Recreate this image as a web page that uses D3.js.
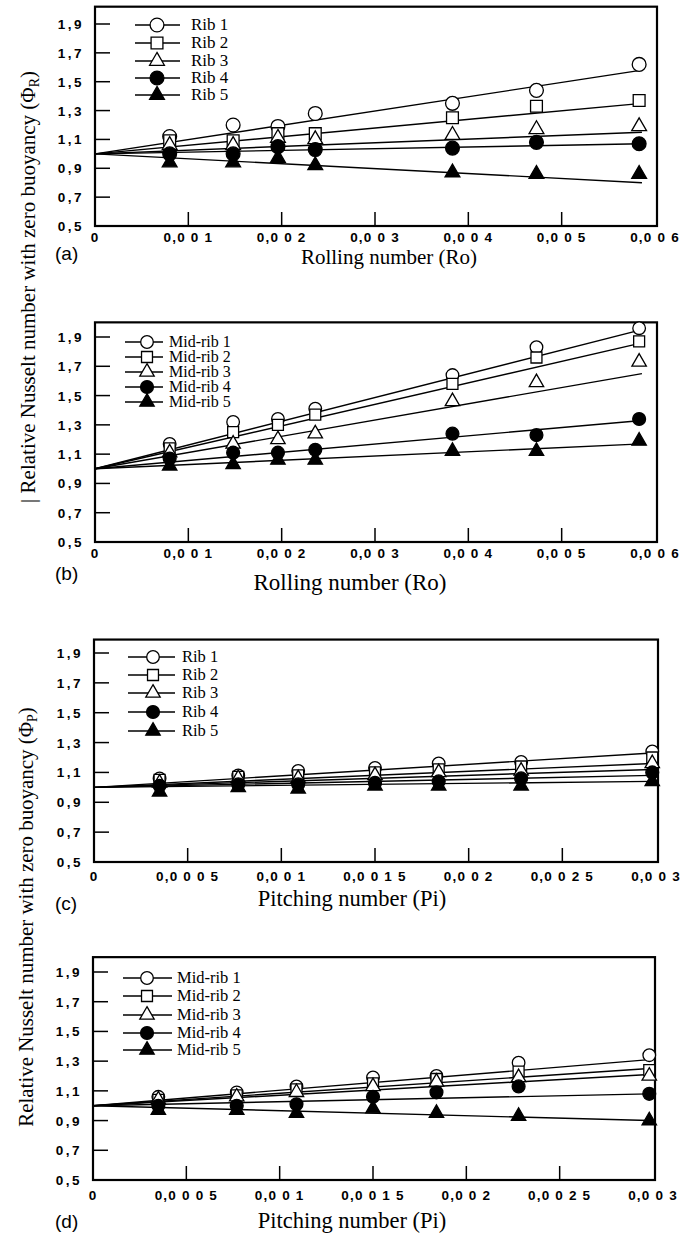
<!DOCTYPE html>
<meta charset="utf-8">
<script src="https://d3js.org/d3.v7.min.js"></script>
<style>
  body { margin: 0; background: #fff; }
  .ytl, .xtl { font-family: "Liberation Sans", Arial, sans-serif; font-weight: bold; font-size: 13.5px; }
  .ser { font-family: "Liberation Serif", "Times New Roman", serif; }
  .tag { font-family: "Liberation Sans", Arial, sans-serif; }
</style>
<svg id="chart" width="688" height="1235"></svg>
<script>

// ---- data ----
var roX = [0.00080, 0.00148, 0.00196, 0.00236, 0.00383, 0.00473, 0.00583];
var piX = [0.00035, 0.00077, 0.00109, 0.00150, 0.00184, 0.00228, 0.00298];

var ribNames = ["Rib 1", "Rib 2", "Rib 3", "Rib 4", "Rib 5"];
var midNames = ["Mid-rib 1", "Mid-rib 2", "Mid-rib 3", "Mid-rib 4", "Mid-rib 5"];

// (a) rolling, ribs
var rollRib1 = [1.12, 1.20, 1.19, 1.28, 1.35, 1.44, 1.62];
var rollRib2 = [1.09, 1.09, 1.14, 1.14, 1.25, 1.33, 1.37];
var rollRib3 = [1.06, 1.06, 1.11, 1.10, 1.13, 1.17, 1.19];
var rollRib4 = [1.00, 1.00, 1.05, 1.03, 1.04, 1.08, 1.07];
var rollRib5 = [0.94, 0.94, 0.97, 0.92, 0.87, 0.86, 0.86];
var rollRibFit = [1.58, 1.35, 1.15, 1.07, 0.80];

// (b) rolling, mid-ribs
var rollMid1 = [1.17, 1.32, 1.34, 1.41, 1.64, 1.83, 1.96];
var rollMid2 = [1.14, 1.25, 1.30, 1.37, 1.58, 1.76, 1.87];
var rollMid3 = [1.11, 1.17, 1.20, 1.24, 1.46, 1.59, 1.73];
var rollMid4 = [1.07, 1.11, 1.11, 1.13, 1.24, 1.23, 1.34];
var rollMid5 = [1.02, 1.03, 1.06, 1.06, 1.12, 1.12, 1.19];
var rollMidFit = [1.95, 1.86, 1.65, 1.33, 1.17];

// (c) pitching, ribs
var pitchRib1 = [1.06, 1.08, 1.11, 1.13, 1.16, 1.17, 1.24];
var pitchRib2 = [1.05, 1.07, 1.08, 1.10, 1.12, 1.14, 1.20];
var pitchRib3 = [1.03, 1.06, 1.06, 1.08, 1.10, 1.11, 1.16];
var pitchRib4 = [1.01, 1.02, 1.02, 1.03, 1.04, 1.06, 1.10];
var pitchRib5 = [0.97, 1.00, 0.99, 1.01, 1.01, 1.01, 1.04];
var pitchRibFit = [1.23, 1.16, 1.12, 1.08, 1.04];

// (d) pitching, mid-ribs
var pitchMid1 = [1.06, 1.09, 1.13, 1.19, 1.20, 1.29, 1.34];
var pitchMid2 = [1.04, 1.07, 1.11, 1.15, 1.18, 1.23, 1.24];
var pitchMid3 = [1.04, 1.06, 1.09, 1.13, 1.16, 1.19, 1.20];
var pitchMid4 = [1.00, 1.00, 1.01, 1.06, 1.09, 1.13, 1.08];
var pitchMid5 = [0.97, 0.97, 0.95, 0.98, 0.95, 0.93, 0.90];
var pitchMidFit = [1.31, 1.25, 1.21, 1.08, 0.90];

// fit lines start at (0, 1) and run to the last measured point
var fitStart = [0, 1.0];
var roFitEnd = 0.00586;
var piFitEnd = 0.00298;

// axes
var yTicks = [0.5, 0.7, 0.9, 1.1, 1.3, 1.5, 1.7, 1.9];
var yTickLabels = ["0,5", "0,7", "0,9", "1,1", "1,3", "1,5", "1,7", "1,9"];
var roTicks = [0, 0.001, 0.002, 0.003, 0.004, 0.005, 0.006];
var roTickLabels = ["0", "0,0 0 1", "0,0 0 2", "0,0 0 3", "0,0 0 4", "0,0 0 5", "0,0 0 6"];
var piTicks = [0, 0.0005, 0.001, 0.0015, 0.002, 0.0025, 0.003];
var piTickLabels = ["0", "0,0 0 0 5", "0,0 0 1", "0,0 0 1 5", "0,0 0 2", "0,0 0 2 5", "0,0 0 3"];

// marker styles: open circle, open square, open triangle, filled circle, filled triangle
var markerTypes = [d3.symbolCircle, d3.symbolSquare, d3.symbolTriangle, d3.symbolCircle, d3.symbolTriangle];
var markerFilled = [false, false, false, true, true];

var svg = d3.select("#chart");

function drawPanel(p) {
  var x = d3.scaleLinear().domain([0, p.xMax]).range([p.left, p.right]);
  var y = d3.scaleLinear().domain([0.5, 1.9]).range([p.bottom, p.y19]);
  var top = y(p.yTop);
  var g = svg.append("g");

  // frame
  g.append("rect")
    .attr("x", p.left).attr("y", top)
    .attr("width", x(p.xMax) + 2 - p.left).attr("height", p.bottom - top)
    .attr("fill", "none").attr("stroke", "#000").attr("stroke-width", 2.2);

  // inward y ticks + labels
  g.selectAll(".yt").data(yTicks.slice(1)).enter().append("line")
    .attr("x1", p.left).attr("x2", p.left + 15)
    .attr("y1", function(d) { return y(d); }).attr("y2", function(d) { return y(d); })
    .attr("stroke", "#000").attr("stroke-width", 1.5);
  g.selectAll(".ytl").data(yTicks).enter().append("text")
    .attr("class", "ytl")
    .attr("x", p.left - 11).attr("y", function(d) { return y(d) + 5; })
    .attr("text-anchor", "end").attr("letter-spacing", "2.5px")
    .text(function(d, i) { return yTickLabels[i]; });

  // inward x ticks + labels
  g.selectAll(".xt").data(p.xTicks.slice(1, -1)).enter().append("line")
    .attr("x1", function(d) { return x(d); }).attr("x2", function(d) { return x(d); })
    .attr("y1", p.bottom).attr("y2", p.bottom - 14)
    .attr("stroke", "#000").attr("stroke-width", 1.5);
  g.selectAll(".xtl").data(p.xTicks).enter().append("text")
    .attr("class", "xtl")
    .attr("x", function(d) { return x(d); })
    .attr("y", p.bottom + p.xLabOff)
    .attr("text-anchor", "middle").attr("letter-spacing", "1.2px")
    .text(function(d, i) { return p.xTickLabels[i]; });

  // fit lines
  var line = d3.line().x(function(d) { return x(d[0]); }).y(function(d) { return y(d[1]); });
  p.fits.forEach(function(f) {
    g.append("path").datum([fitStart, [p.fitEnd, f]])
      .attr("d", line).attr("fill", "none").attr("stroke", "#000").attr("stroke-width", 1.4);
  });

  // markers
  p.series.forEach(function(s, k) {
    var sym = d3.symbol().type(markerTypes[k]).size(p.msize[k]);
    g.selectAll(".m" + k).data(s).enter().append("path")
      .attr("d", sym)
      .attr("transform", function(d, i) { return "translate(" + x(p.xs[i]) + "," + y(d) + ")"; })
      .attr("fill", markerFilled[k] ? "#000" : "#fff")
      .attr("stroke", "#000").attr("stroke-width", 1.3);
  });

  // legend
  p.names.forEach(function(n, k) {
    var ly = p.legY[k];
    g.append("line").attr("x1", p.legX[0]).attr("x2", p.legX[1])
      .attr("y1", ly).attr("y2", ly).attr("stroke", "#000").attr("stroke-width", 1.4);
    g.append("path").attr("d", d3.symbol().type(markerTypes[k]).size(p.msize[k]))
      .attr("transform", "translate(" + p.legX[2] + "," + ly + ")")
      .attr("fill", markerFilled[k] ? "#000" : "#fff")
      .attr("stroke", "#000").attr("stroke-width", 1.3);
    g.append("text").attr("class", "ser")
      .attr("x", p.legX[3]).attr("y", ly + 5)
      .attr("font-size", p.legFont).text(n);
  });

  // axis title and panel tag
  g.append("text").attr("class", "ser")
    .attr("x", p.titleX).attr("y", p.titleY)
    .attr("text-anchor", "middle").attr("font-size", p.titleFont).text(p.title);
  g.append("text").attr("class", "tag")
    .attr("x", 55).attr("y", p.tagY).attr("font-size", 19).text(p.tag);
}

var msA = [150, 140, 95, 150, 95];
var msB = [125, 120, 90, 130, 90];

drawPanel({ left: 95, right: 655, bottom: 226, y19: 24, yTop: 2.02, xMax: 0.006,
  xTicks: roTicks, xTickLabels: roTickLabels, xLabOff: 16, xs: roX,
  series: [rollRib1, rollRib2, rollRib3, rollRib4, rollRib5], fits: rollRibFit, fitEnd: roFitEnd,
  names: ribNames, msize: msA, legX: [135, 180, 157, 191], legY: [25, 43, 61, 78, 95], legFont: 17,
  title: "Rolling number (Ro)", titleX: 389, titleY: 264, titleFont: 21, tag: "(a)", tagY: 260 });

drawPanel({ left: 95, right: 655, bottom: 542, y19: 337, yTop: 2.0, xMax: 0.006,
  xTicks: roTicks, xTickLabels: roTickLabels, xLabOff: 16, xs: roX,
  series: [rollMid1, rollMid2, rollMid3, rollMid4, rollMid5], fits: rollMidFit, fitEnd: roFitEnd,
  names: midNames, msize: msB, legX: [125, 163, 147, 169], legY: [342, 357, 372, 387, 402], legFont: 16,
  title: "Rolling number (Ro)", titleX: 350, titleY: 590, titleFont: 23, tag: "(b)", tagY: 580 });

drawPanel({ left: 94, right: 656, bottom: 862, y19: 653, yTop: 1.99, xMax: 0.003,
  xTicks: piTicks, xTickLabels: piTickLabels, xLabOff: 19, xs: piX,
  series: [pitchRib1, pitchRib2, pitchRib3, pitchRib4, pitchRib5], fits: pitchRibFit, fitEnd: piFitEnd,
  names: ribNames, msize: msB, legX: [128, 175, 153, 182], legY: [657, 675, 693, 712, 731], legFont: 16.5,
  title: "Pitching number (Pi)", titleX: 352, titleY: 906, titleFont: 22.5, tag: "(c)", tagY: 910 });

drawPanel({ left: 93, right: 653, bottom: 1180, y19: 972, yTop: 2.0, xMax: 0.003,
  xTicks: piTicks, xTickLabels: piTickLabels, xLabOff: 20, xs: piX,
  series: [pitchMid1, pitchMid2, pitchMid3, pitchMid4, pitchMid5], fits: pitchMidFit, fitEnd: piFitEnd,
  names: midNames, msize: msB, legX: [123, 172, 147, 177], legY: [978, 996, 1015, 1033, 1050], legFont: 16.5,
  title: "Pitching number (Pi)", titleX: 352, titleY: 1228, titleFont: 22.5, tag: "(d)", tagY: 1228 });

// shared rotated y titles, sized to the span they take in the figure
function yTitle(cx, cy, span, sub, bar) {
  var t = svg.append("text").attr("class", "ser")
    .attr("transform", "translate(" + cx + "," + cy + ") rotate(-90)")
    .attr("text-anchor", "middle").attr("font-size", 21);
  t.append("tspan").text((bar ? "| " : "") + "Relative Nusselt number with zero buoyancy (\u03A6");
  var s = t.append("tspan").attr("font-size", 14).attr("dy", 4).text(sub);
  t.append("tspan").attr("dy", -4).text(")");
  var f = 21 * span / t.node().getComputedTextLength();
  t.attr("font-size", f);
  s.attr("font-size", f * 0.66);
}
yTitle(35, 287, 432, "R", true);
yTitle(33, 917, 420, "P", false);

</script>
